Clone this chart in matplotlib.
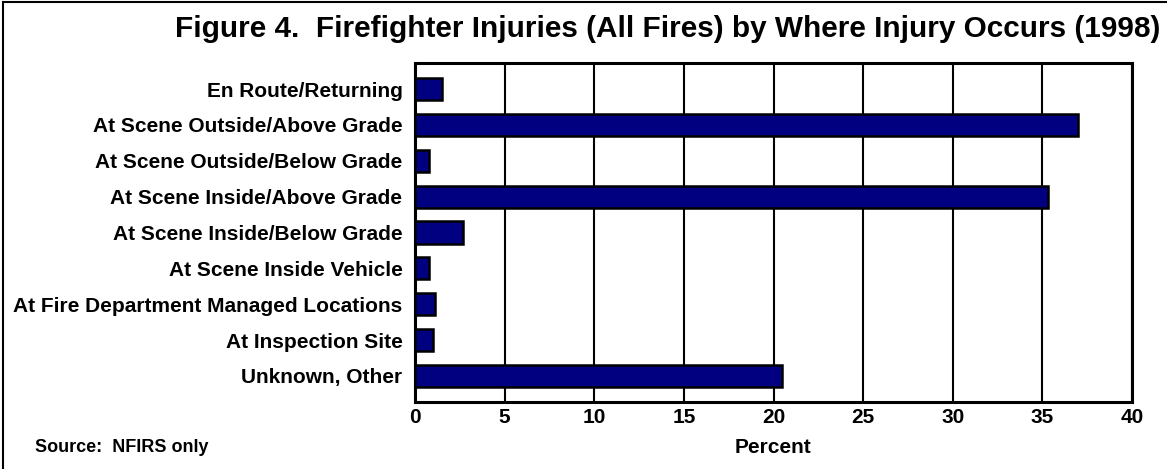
import matplotlib.pyplot as plt
from matplotlib.lines import Line2D
import numpy as np

plt.rcParams['font.family'] = ['Liberation Sans', 'DejaVu Sans']
plt.rcParams['font.weight'] = 'bold'

# data
categories = [
    "En Route/Returning",
    "At Scene Outside/Above Grade",
    "At Scene Outside/Below Grade",
    "At Scene Inside/Above Grade",
    "At Scene Inside/Below Grade",
    "At Scene Inside Vehicle",
    "At Fire Department Managed Locations",
    "At Inspection Site",
    "Unknown, Other",
]
percent = [1.5, 37.0, 0.8, 35.3, 2.7, 0.8, 1.1, 1.0, 20.5]
xticks = [0, 5, 10, 15, 20, 25, 30, 35, 40]

W, H = 1167, 469
fig = plt.figure(figsize=(W / 100, H / 100), dpi=100)
ax = fig.add_axes([415 / W, 1 - 402 / H, (1132 - 415) / W, (402 - 63) / H])

ypos = np.arange(len(categories))
ax.barh(ypos, percent, height=0.62, color='#000080', edgecolor='black',
        linewidth=1.8, zorder=3)

ax.set_xlim(0, 40)
ax.set_ylim(len(categories) - 1 + 0.73, -0.73)
ax.set_xticks(xticks)
ax.set_xticklabels([str(t) for t in xticks], fontsize=15, fontweight='bold')
ax.set_yticks(ypos)
ax.set_yticklabels(categories, fontsize=15, fontweight='bold')
ax.tick_params(axis='both', length=0)
ax.tick_params(axis='x', pad=4)
ax.tick_params(axis='y', pad=9)
ax.xaxis.grid(True, color='black', linewidth=1.5, zorder=1)
for s in ax.spines.values():
    s.set_linewidth(2.2)

ax.set_xlabel("Percent", fontsize=15, fontweight='bold', labelpad=8)

fig.text(1160 / W, 1 - 29 / H,
         "Figure 4.  Firefighter Injuries (All Fires) by Where Injury Occurs (1998)",
         ha='right', va='center', fontsize=21.4, fontweight='bold')
fig.text(35 / W, 1 - 447 / H, "Source:  NFIRS only", ha='left', va='center',
         fontsize=13, fontweight='bold')

# outer frame (left and top edges visible)
fig.add_artist(Line2D([2.5 / W, 2.5 / W], [0, 1 - 2.5 / H], color='black',
                      linewidth=1.5, transform=fig.transFigure))
fig.add_artist(Line2D([2.5 / W, 1], [1 - 2.5 / H, 1 - 2.5 / H], color='black',
                      linewidth=1.5, transform=fig.transFigure))

fig.savefig("out.png", dpi=100)
